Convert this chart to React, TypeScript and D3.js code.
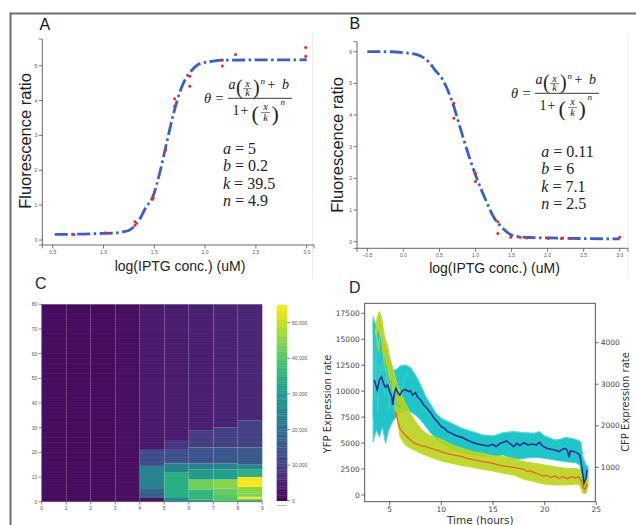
import React from 'react';
import * as d3 from 'd3';

// ================= Panel A data =================
const aFit: [number, number][] = [[0.52,0.16],[0.8,0.17],[1.0,0.19],[1.11,0.2],[1.2,0.24],[1.26,0.29],[1.32,0.45],[1.36,0.62],[1.42,0.95],[1.48,1.2],[1.56,2.0],[1.62,2.77],[1.69,3.63],[1.77,4.39],[1.87,4.87],[1.95,5.06],[2.08,5.13],[2.2,5.16],[3.0,5.17]];
const aPoints: [number, number][] = [[0.71,0.16],[1.02,0.21],[1.31,0.52],[1.31,0.42],[1.48,1.17],[1.49,1.21],[1.61,2.58],[1.70,4.05],[1.70,3.84],[1.85,4.41],[1.85,4.7],[2.17,4.99],[2.17,5.16],[2.30,5.32],[2.99,5.52],[2.99,5.27]];
const aXTicks = [0.5, 1.0, 1.5, 2.0, 2.5, 3.0];
const aYTicks = [0, 1, 2, 3, 4, 5];
const aParams = [['a', '5'], ['b', '0.2'], ['k', '39.5'], ['n', '4.9']];

// ================= Panel B data =================
const bFit: [number, number][] = [[-0.5,6.0],[-0.25,6.0],[0,5.97],[0.2,5.9],[0.35,5.68],[0.44,5.42],[0.55,5.1],[0.67,4.47],[0.81,3.43],[0.92,2.63],[1.01,2.05],[1.13,1.38],[1.25,0.79],[1.36,0.47],[1.5,0.21],[1.6,0.16],[1.8,0.13],[2.0,0.12],[2.5,0.1],[3.0,0.09]];
const bPoints: [number, number][] = [[0.70,4.37],[0.70,3.9],[1.0,2.16],[1.0,1.9],[1.31,0.63],[1.31,0.26],[1.49,0.14],[1.62,0.14],[1.71,0.12],[2.01,0.1],[2.19,0.1],[2.32,0.1],[3.0,0.14]];
const bXTicks = [-0.5, 0.0, 0.5, 1.0, 1.5, 2.0, 2.5, 3.0];
const bYTicks = [0, 1, 2, 3, 4, 5, 6];
const bParams = [['a', '0.11'], ['b', '6'], ['k', '7.1'], ['n', '2.5']];

// ================= Panel C data (column, rowFrom, rowTo, value) =================
const heatBands: [number, number, number, number][] = [
  [0,0,80,1400],[1,0,80,1400],[2,0,80,1500],[3,0,80,1900],
  [4,0,1.5,2500],[4,1.5,5.5,17000],[4,5.5,14.5,24000],[4,14.5,21,12500],[4,21,80,3500],
  [5,0,1.5,25000],[5,1.5,12,34000],[5,12,15.5,24000],[5,15.5,21,13500],[5,21,25,8500],[5,25,80,4000],
  [6,0,0.8,28000],[6,0.8,5,36000],[6,5,9,43000],[6,9,13,30000],[6,13,15.5,24000],[6,15.5,22,14000],[6,22,29,9500],[6,29,80,4500],
  [7,0,2.7,40000],[7,2.7,5.4,42000],[7,5.4,9,45000],[7,9,13,31000],[7,13,15.5,25000],[7,15.5,22,14500],[7,22,30,10000],[7,30,80,5000],
  [8,0,1,36000],[8,1,2,54000],[8,2,3.4,44000],[8,3.4,6,45500],[8,6,10,54500],[8,10,13,35000],[8,13,15,26000],[8,15,22,15000],[8,22,33,10500],[8,33,80,5500],
];
const heatXTicks = [0, 1, 2, 3, 4, 5, 6, 7, 8, 9];
const heatYTicks = [0, 10, 20, 30, 40, 50, 60, 70, 80];
const cbarTicks = [0, 10000, 20000, 30000, 40000, 50000];
const cbarMax = 55000;

// ================= Panel D data =================
const dNavy: [number, number][] = [[3.5,3101],[3.7,2941],[3.8,2861],[4.0,3101],[4.2,3181],[4.4,3021],[4.6,2925],[4.8,2981],[5.0,2821],[5.2,2700],[5.3,2500],[5.45,2780],[5.6,2900],[5.8,2796],[6.0,2740],[6.2,2837],[6.5,2877],[6.8,2820],[7.0,2845],[7.2,2740],[7.5,2796],[7.7,2684],[8.0,2620],[8.3,2500],[8.6,2420],[9.0,2300],[9.3,2180],[9.6,2100],[10.0,1978],[10.3,1938],[10.6,1858],[11.0,1818],[11.5,1754],[12.0,1722],[12.5,1658],[13.0,1601],[13.5,1561],[14.0,1537],[14.5,1513],[15.0,1553],[15.3,1497],[15.7,1577],[16.0,1601],[16.3,1634],[16.7,1561],[17.0,1497],[17.3,1577],[17.6,1521],[18.0,1593],[18.4,1537],[18.8,1561],[19.2,1537],[19.5,1601],[19.8,1513],[20.2,1457],[20.6,1433],[21.0,1417],[21.4,1377],[21.7,1433],[22.0,1457],[22.2,1401],[22.35,1240],[22.5,1401],[22.8,1377],[23.1,1353],[23.4,1297],[23.6,1016],[23.8,615],[24.0,735],[24.1,936]];
const dCyanUpper: [number, number][] = [[3.4,4625],[3.6,4464],[3.9,4304],[4.2,4224],[4.5,3903],[4.8,3783],[5.0,3622],[5.3,3342],[5.6,3342],[6.0,3438],[6.5,3462],[7.0,3406],[7.5,3221],[8.0,2981],[8.5,2700],[9.0,2500],[9.5,2299],[10.0,2179],[11.0,2058],[12.0,1938],[13.0,1858],[14.0,1778],[15.0,1754],[16.0,1834],[17.0,1858],[18.0,1834],[19.0,1818],[19.5,1858],[20.0,1754],[21.0,1657],[21.5,1673],[22.0,1722],[23.0,1673],[23.5,1617],[23.7,1256],[24.0,1056],[24.2,1016]];
const dCyanLower: [number, number][] = [[3.4,1617],[3.7,1898],[4.0,1738],[4.3,1978],[4.6,1577],[4.9,1898],[5.2,2058],[5.5,2179],[6.0,2299],[6.5,2363],[7.0,2339],[7.5,2259],[8.0,2139],[8.5,1978],[9.0,1818],[9.5,1673],[10.0,1577],[11.0,1433],[12.0,1353],[13.0,1321],[14.0,1272],[15.0,1256],[16.0,1297],[17.0,1176],[18.0,1216],[19.0,1240],[20.0,1216],[21.0,1176],[22.0,1136],[23.0,1112],[23.4,1056],[23.7,535],[23.9,374],[24.1,494],[24.2,695]];
const dCyanStrandA: [number, number][] = [[3.4,4500],[3.5,3500],[3.6,4200],[3.75,3000],[3.9,3800],[4.05,2600],[4.2,3300],[4.4,2400],[4.6,3100],[4.8,2500],[5.0,2900],[5.3,2600],[5.6,2800],[6.0,2700]];
const dCyanStrandB: [number, number][] = [[3.4,2200],[3.5,3900],[3.65,2500],[3.8,3400],[4.0,2000],[4.15,3700],[4.35,2300],[4.55,3300],[4.75,2100],[4.95,2700],[5.2,2300],[5.5,2550],[6.0,2450]];
const dCyanStrandC: [number, number][] = [[3.45,3800],[3.55,2600],[3.7,4100],[3.85,2300],[4.0,3500],[4.1,2900],[4.3,3600],[4.5,2700],[4.7,3400],[4.9,2300],[5.1,3100],[5.4,2400],[5.7,3000],[6.2,2900],[6.6,3300],[7.0,3100]];
const dYellowUpper: [number, number][] = [[3.6,15583],[3.8,17190],[4.0,17672],[4.2,17190],[4.5,15262],[4.8,14298],[5.0,13173],[5.3,12209],[5.6,11085],[6.0,9960],[6.5,8836],[7.0,7872],[7.5,7069],[8.0,6426],[8.5,5944],[9.0,5687],[10.0,5366],[11.0,4820],[12.0,4498],[13.0,4177],[14.0,4016],[15.0,3759],[16.0,3695],[17.0,3534],[18.0,3213],[19.0,3052],[20.0,2892],[21.0,2731],[22.0,2570],[23.0,2570],[23.4,2410],[23.7,1446],[24.0,1285],[24.2,1767]];
const dYellowLower: [number, number][] = [[3.6,14500],[3.8,15800],[4.0,16000],[4.2,15000],[4.5,13500],[4.8,12300],[5.0,11300],[5.3,10000],[5.6,8200],[6.0,5623],[6.5,4820],[7.0,4498],[7.5,4273],[8.0,4016],[9.0,3631],[10.0,3277],[11.0,3052],[12.0,2827],[13.0,2667],[14.0,2474],[15.0,2313],[16.0,2088],[17.0,1928],[18.0,1510],[19.0,1285],[20.0,1060],[21.0,964],[22.0,964],[23.0,1060],[23.4,964],[23.7,161],[24.0,161],[24.2,803]];
const dYellowStrand: [number, number][] = [[3.6,12800],[3.8,15200],[3.95,13500],[4.1,16600],[4.3,14000],[4.6,12000],[4.9,10800],[5.2,9500],[5.5,8300],[5.8,7200]];
const dOrange: [number, number][] = [[5.6,8033],[5.75,7229],[5.9,6651],[6.0,6426],[6.2,6105],[6.5,5783],[6.8,5462],[7.0,5301],[7.3,5044],[7.6,4916],[8.0,4755],[8.5,4659],[9.0,4498],[9.5,4338],[10.0,4177],[10.5,4016],[11.0,3888],[11.5,3791],[12.0,3695],[12.5,3534],[13.0,3438],[13.5,3309],[14.0,3213],[14.5,3149],[15.0,3052],[15.5,2892],[16.0,2795],[16.5,2731],[17.0,2667],[17.5,2570],[18.0,2474],[18.3,2249],[18.6,2345],[19.0,2153],[19.4,2024],[19.8,1831],[20.2,1896],[20.6,1703],[21.0,1831],[21.4,1607],[21.8,1767],[22.2,1574],[22.6,1767],[23.0,1639],[23.3,1767],[23.5,1446],[23.7,739],[23.9,546],[24.1,1060]];
const dXTicks = [5, 10, 15, 20, 25];
const dLeftTicks = [0, 2500, 5000, 7500, 10000, 12500, 15000, 17500];
const dRightTicks = [1000, 2000, 3000, 4000];

const sans = "'Liberation Sans', Arial, sans-serif";
const serif = "'Liberation Serif', 'DejaVu Serif', serif";
const dejavu = "'DejaVu Sans', sans-serif";

function Eq({ x, y }: { x: number; y: number }) {
  const it = { fontFamily: serif, fontStyle: 'italic' as const };
  const rm = { fontFamily: serif };
  return (
    <g transform={`translate(${x},${y})`} fill="#222">
      <text x={-24} y={4.5} fontSize={14.5} {...it}>θ</text>
      <text x={-12.5} y={4.5} fontSize={14.5} {...rm}>=</text>
      <line x1={0} x2={64} y1={0} y2={0} stroke="#222" strokeWidth={0.9} />
      <text x={0.5} y={-9.5} fontSize={14} {...it}>a</text>
      <text x={8} y={-4} fontSize={20} {...rm}>(</text>
      <text x={19.5} y={-11.8} fontSize={10.5} textAnchor="middle" {...it}>x</text>
      <line x1={15} x2={24} y1={-9.6} y2={-9.6} stroke="#222" strokeWidth={0.6} />
      <text x={19.5} y={-2} fontSize={10.5} textAnchor="middle" {...it}>k</text>
      <text x={25} y={-4} fontSize={20} {...rm}>)</text>
      <text x={32.5} y={-14.5} fontSize={9} {...it}>n</text>
      <text x={39.5} y={-9.5} fontSize={14} {...rm}>+</text>
      <text x={54} y={-9.5} fontSize={14} {...it}>b</text>
      <text x={4.5} y={17} fontSize={14} {...rm}>1</text>
      <text x={12.5} y={17} fontSize={14} {...rm}>+</text>
      <text x={23.5} y={22.5} fontSize={22} {...rm}>(</text>
      <text x={37.5} y={12} fontSize={10.5} textAnchor="middle" {...it}>x</text>
      <line x1={33} x2={42} y1={14.3} y2={14.3} stroke="#222" strokeWidth={0.6} />
      <text x={37.5} y={23} fontSize={10.5} textAnchor="middle" {...it}>k</text>
      <text x={43.5} y={22.5} fontSize={22} {...rm}>)</text>
      <text x={52.5} y={6.5} fontSize={9} {...it}>n</text>
    </g>
  );
}

type FitCfg = {
  xDomain: [number, number]; xRange: [number, number];
  yDomain: [number, number]; yRange: [number, number];
  axX: number; axY: number; yTop: number; xEnd: number; edgeX: number;
  fit: [number, number][]; pts: [number, number][];
  xTicks: number[]; yTicks: number[];
  letter: string; letterX: number; letterY: number;
  yLabX: number; yLabY: number; xLabX: number; xLabY: number;
  eqX: number; eqY: number; parX: number; parY: number; params: string[][];
};

function FitPanel({ c }: { c: FitCfg }) {
  const x = d3.scaleLinear().domain(c.xDomain).range(c.xRange);
  const y = d3.scaleLinear().domain(c.yDomain).range(c.yRange);
  const line = d3.line<[number, number]>().x(d => x(d[0])).y(d => y(d[1])).curve(d3.curveMonotoneX);
  const ax = '#555';
  return (
    <g>
      <line x1={c.edgeX} x2={c.edgeX} y1={33} y2={278} stroke="#ececec" strokeWidth={1} />
      <text x={c.letterX} y={c.letterY} fontSize={16} fontFamily={sans} fill="#151515">{c.letter}</text>
      <line x1={c.axX} x2={c.axX} y1={c.yTop} y2={c.axY} stroke={ax} strokeWidth={0.9} />
      <line x1={c.axX} x2={c.xEnd} y1={c.axY} y2={c.axY} stroke={ax} strokeWidth={0.9} />
      <line x1={c.axX - 3.5} x2={c.axX} y1={c.yTop} y2={c.yTop} stroke={ax} strokeWidth={0.8} />
      <line x1={c.axX - 3.5} x2={c.axX} y1={c.axY} y2={c.axY} stroke={ax} strokeWidth={0.8} />
      <line x1={c.axX} x2={c.axX} y1={c.axY} y2={c.axY + 3.5} stroke={ax} strokeWidth={0.8} />
      <line x1={c.xEnd} x2={c.xEnd} y1={c.axY} y2={c.axY + 3.5} stroke={ax} strokeWidth={0.8} />
      {c.yTicks.map(t => (
        <g key={'y' + t}>
          <line x1={c.axX - 3.5} x2={c.axX} y1={y(t)} y2={y(t)} stroke={ax} strokeWidth={0.8} />
          <text x={c.axX - 5} y={y(t)} fontSize={5} fill="#555" textAnchor="end" dominantBaseline="central" fontFamily={sans}>{t}</text>
        </g>
      ))}
      {c.xTicks.map(t => (
        <g key={'x' + t}>
          <line x1={x(t)} x2={x(t)} y1={c.axY} y2={c.axY + 3.5} stroke={ax} strokeWidth={0.8} />
          <text x={x(t)} y={c.axY + 8.5} fontSize={5} fill="#555" textAnchor="middle" fontFamily={sans}>{d3.format('.1f')(t)}</text>
        </g>
      ))}
      <text transform={`translate(${c.yLabX},${c.yLabY}) rotate(-90)`} textAnchor="middle" fontSize={16.5} fontFamily={sans} fill="#222">Fluorescence ratio</text>
      <text x={c.xLabX} y={c.xLabY} textAnchor="middle" fontSize={14} fontFamily={sans} fill="#222">log(IPTG conc.) (uM)</text>
      <path d={line(c.fit) || ''} fill="none" stroke="#3a5fc6" strokeWidth={2.8} strokeDasharray="13,3.5,2.5,3.5" />
      {c.pts.map((p, i) => (
        <circle key={i} cx={x(p[0])} cy={y(p[1])} r={1.5} fill="#f22424" />
      ))}
      <Eq x={c.eqX} y={c.eqY} />
      {c.params.map((p, i) => (
        <text key={p[0]} x={c.parX} y={c.parY + i * 17.3} fontSize={16} fontFamily={serif} fill="#222">
          <tspan fontStyle="italic">{p[0]}</tspan>
          <tspan>{' = ' + p[1]}</tspan>
        </text>
      ))}
    </g>
  );
}

function HeatPanel() {
  const x = d3.scaleLinear().domain([0, 9]).range([41.7, 262.3]);
  const y = d3.scaleLinear().domain([0, 80]).range([501.7, 304.3]);
  const color = d3.scaleSequential(d3.interpolateViridis).domain([0, cbarMax]);
  const cb = d3.scaleLinear().domain([0, cbarMax]).range([500.7, 305]);
  const rows = d3.range(0, 80);
  const cbSteps = d3.range(0, cbarMax, 500);
  return (
    <g>
      <text x={35} y={289} fontSize={16} fontFamily={sans} fill="#1c2440">C</text>
      {heatBands.map((b, i) => (
        <rect key={i} x={x(b[0])} y={y(b[2])} width={x(b[0] + 1) - x(b[0])} height={y(b[1]) - y(b[2])} fill={color(b[3])} />
      ))}
      {rows.map(r => (
        <line key={'r' + r} x1={x(0)} x2={x(9)} y1={y(r)} y2={y(r)} stroke="#fff" strokeOpacity={r % 2 ? 0.04 : 0.08} strokeWidth={0.7} />
      ))}
      {heatXTicks.slice(1, 9).map(t => (
        <line key={'v' + t} x1={x(t)} x2={x(t)} y1={y(80)} y2={y(0)} stroke="#fff" strokeOpacity={0.08} strokeWidth={1} />
      ))}
      <line x1={x(0)} x2={x(0)} y1={y(80)} y2={y(0)} stroke="#555" strokeWidth={0.6} />
      <line x1={x(0)} x2={x(9)} y1={y(0)} y2={y(0)} stroke="#555" strokeWidth={0.6} />
      {heatYTicks.map(t => (
        <g key={'hy' + t}>
          <line x1={x(0) - 3} x2={x(0)} y1={y(t)} y2={y(t)} stroke="#555" strokeWidth={0.7} />
          <text x={x(0) - 4.5} y={y(t)} fontSize={5} fill="#555" textAnchor="end" dominantBaseline="central" fontFamily={sans}>{t}</text>
        </g>
      ))}
      {heatXTicks.map(t => (
        <g key={'hx' + t}>
          <line x1={x(t)} x2={x(t)} y1={y(0)} y2={y(0) + 3} stroke="#555" strokeWidth={0.7} />
          <text x={x(t)} y={y(0) + 8} fontSize={5} fill="#555" textAnchor="middle" fontFamily={sans}>{t}</text>
        </g>
      ))}
      {cbSteps.map(v => (
        <rect key={'cb' + v} x={276.7} y={cb(v + 500)} width={10.6} height={cb(v) - cb(v + 500) + 0.3} fill={color(v + 250)} />
      ))}
      {d3.range(0, cbarMax, 1250).map(v => (
        <line key={'cbl' + v} x1={276.7} x2={287.3} y1={cb(v)} y2={cb(v)} stroke="#fff" strokeOpacity={0.07} strokeWidth={0.6} />
      ))}
      {cbarTicks.map(t => (
        <g key={'ct' + t}>
          <line x1={287.3} x2={290.3} y1={cb(t)} y2={cb(t)} stroke="#555" strokeWidth={0.7} />
          <text x={292} y={cb(t)} fontSize={5} fill="#555" dominantBaseline="central" fontFamily={sans}>{d3.format(',')(t)}</text>
        </g>
      ))}
      <line x1={277} x2={287} y1={505.5} y2={505.5} stroke="#888" strokeWidth={0.6} />
    </g>
  );
}

function TimePanel() {
  const L = 364.7, R = 595.3, T = 303.3, B = 501.7;
  const x = d3.scaleLinear().domain([5, 25]).range([389.7, 596.3]);
  const yl = d3.scaleLinear().domain([0, 17500]).range([495, 313.3]);
  const yr = d3.scaleLinear().domain([1000, 4000]).range([467.3, 342.7]);
  const lineL = d3.line<[number, number]>().x(d => x(d[0])).y(d => yl(d[1]));
  const lineR = d3.line<[number, number]>().x(d => x(d[0])).y(d => yr(d[1]));
  const band = (upper: [number, number][], lower: [number, number][], ys: d3.ScaleLinear<number, number>) => {
    const up = upper.map(d => [x(d[0]), ys(d[1])]);
    const lo = lower.slice().reverse().map(d => [x(d[0]), ys(d[1])]);
    return 'M' + up.concat(lo).map(p => p.join(',')).join('L') + 'Z';
  };
  const cyan = '#1fc5c8';
  const lime = '#b9d21c';
  return (
    <g>
      <text x={349} y={293} fontSize={16} fontFamily={sans} fill="#1c2440">D</text>
      <defs>
        <clipPath id="dclip"><rect x={L} y={T} width={R - L} height={B - T} /></clipPath>
      </defs>
      <g clipPath="url(#dclip)">
        <path d={band(dCyanUpper, dCyanLower, yr)} fill={cyan} stroke="#3fd6d6" strokeWidth={1} strokeLinejoin="round" />
        <path d={lineR(dCyanUpper) || ''} fill="none" stroke="#5adada" strokeWidth={0.8} />
        <path d={band(dYellowUpper, dYellowLower, yl)} fill={lime} fillOpacity={0.9} stroke="#c6dc22" strokeWidth={1} strokeLinejoin="round" />
        <path d={lineL(dYellowStrand) || ''} fill="none" stroke={lime} strokeWidth={1.1} />
        <path d={lineR(dCyanStrandA) || ''} fill="none" stroke={cyan} strokeWidth={1.1} />
        <path d={lineR(dCyanStrandB) || ''} fill="none" stroke="#29c0c4" strokeWidth={1.1} />
        <path d={lineR(dCyanStrandC) || ''} fill="none" stroke="#35cfd2" strokeWidth={1} />
        <path d={lineR(dNavy) || ''} fill="none" stroke="#1e2c8c" strokeWidth={1.5} />
        <path d={lineL(dOrange) || ''} fill="none" stroke="#e8661c" strokeWidth={1.3} />
      </g>
      <rect x={L} y={T} width={R - L} height={B - T} fill="none" stroke="#444" strokeWidth={0.9} />
      {dXTicks.map(t => (
        <g key={'dx' + t}>
          <line x1={x(t)} x2={x(t)} y1={B} y2={B + 3.5} stroke="#444" strokeWidth={0.8} />
          <text x={x(t)} y={B + 9.8} fontSize={7.5} fill="#444" textAnchor="middle" fontFamily={dejavu}>{t}</text>
        </g>
      ))}
      {dLeftTicks.map(t => (
        <g key={'dl' + t}>
          <line x1={L - 3.5} x2={L} y1={yl(t)} y2={yl(t)} stroke="#444" strokeWidth={0.8} />
          <text x={L - 5} y={yl(t)} fontSize={7.5} fill="#444" textAnchor="end" dominantBaseline="central" fontFamily={dejavu}>{t}</text>
        </g>
      ))}
      {dRightTicks.map(t => (
        <g key={'dr' + t}>
          <line x1={R} x2={R + 3.5} y1={yr(t)} y2={yr(t)} stroke="#444" strokeWidth={0.8} />
          <text x={R + 5.5} y={yr(t)} fontSize={7.5} fill="#444" dominantBaseline="central" fontFamily={dejavu}>{t}</text>
        </g>
      ))}
      <text x={480.3} y={523.5} fontSize={10.5} textAnchor="middle" fontFamily={dejavu} fill="#333">Time (hours)</text>
      <text transform="translate(331,404) rotate(-90)" fontSize={10} textAnchor="middle" fontFamily={dejavu} fill="#333">YFP Expression rate</text>
      <text transform="translate(629,402) rotate(-90)" fontSize={10} textAnchor="middle" fontFamily={dejavu} fill="#333">CFP Expression rate</text>
    </g>
  );
}

const panelA: FitCfg = {
  xDomain: [0.5, 3.0], xRange: [52.7, 306.7], yDomain: [0, 5], yRange: [240, 65.7],
  axX: 42.3, axY: 245, yTop: 39, xEnd: 314, edgeX: 312.5,
  fit: aFit, pts: aPoints, xTicks: aXTicks, yTicks: aYTicks,
  letter: 'A', letterX: 39.5, letterY: 30,
  yLabX: 31, yLabY: 141, xLabX: 180, xLabY: 271,
  eqX: 228, eqY: 98.3, parX: 223, parY: 154, params: aParams,
};

const panelB: FitCfg = {
  xDomain: [-0.5, 3.0], xRange: [367.3, 619.7], yDomain: [0, 6], yRange: [241.7, 51.7],
  axX: 357, axY: 248.3, yTop: 41.7, xEnd: 628, edgeX: 628,
  fit: bFit, pts: bPoints, xTicks: bXTicks, yTicks: bYTicks,
  letter: 'B', letterX: 349.5, letterY: 29,
  yLabX: 343, yLabY: 145, xLabX: 494.5, xLabY: 273,
  eqX: 535, eqY: 93.3, parX: 541.3, parY: 157, params: bParams,
};

export default function App() {
  React.useEffect(() => { document.body.style.margin = '0'; }, []);
  return (
    <svg width={636} height={525} style={{ position: 'absolute', left: 0, top: 0, display: 'block' }}>
      <rect width={636} height={525} fill="#fff" />
      <line x1={10} y1={13.5} x2={636} y2={13.5} stroke="#6e6e6e" strokeWidth={2} />
      <line x1={10.5} y1={12.5} x2={10.5} y2={525} stroke="#6e6e6e" strokeWidth={2} />
      <FitPanel c={panelA} />
      <FitPanel c={panelB} />
      <HeatPanel />
      <TimePanel />
    </svg>
  );
}
